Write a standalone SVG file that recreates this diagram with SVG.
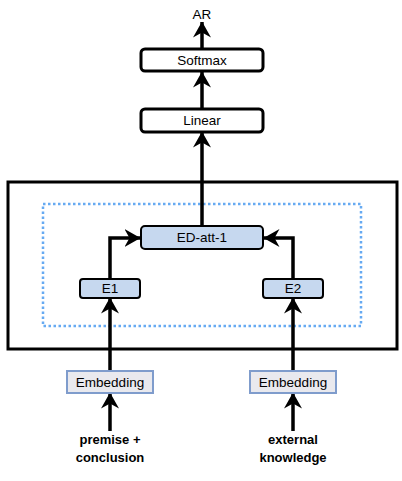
<svg xmlns="http://www.w3.org/2000/svg" width="402" height="481" viewBox="0 0 402 481">
<style>
.t{font-family:"Liberation Sans",Arial,sans-serif;font-size:13.5px;fill:#000;text-anchor:middle}
.b{font-weight:bold;font-size:13px}
.w{fill:#fff;stroke:#000;stroke-width:3}
.bl{fill:#c6d8ef;stroke:#000;stroke-width:2}
.em{fill:#e9e9ee;stroke:#7f9ccc;stroke-width:2}
.c{fill:none;stroke:#000;stroke-width:3.5}
</style>
<defs>
<marker id="a" viewBox="0 0 16 18" refX="15.5" refY="9" markerWidth="16" markerHeight="18" markerUnits="userSpaceOnUse" orient="auto">
<path d="M0,0 L16,9 L0,18 L5,9 Z" fill="#000"/>
</marker>
</defs>
<rect x="8" y="182" width="389" height="167" fill="none" stroke="#000" stroke-width="3"/>
<rect x="43" y="204" width="318" height="122" fill="none" stroke="#66aaf2" stroke-width="2.5" stroke-dasharray="2.5,2.5"/>
<g id="connectors">
<path class="c" d="M202,49 V22" marker-end="url(#a)"/>
<path class="c" d="M202,109 V72" marker-end="url(#a)"/>
<path class="c" d="M202,226 V132" marker-end="url(#a)"/>
<path class="c" d="M110,279 V238 H140" marker-end="url(#a)"/>
<path class="c" d="M293,279 V238 H264" marker-end="url(#a)"/>
<path class="c" d="M110,371 V298" marker-end="url(#a)"/>
<path class="c" d="M293,371 V298" marker-end="url(#a)"/>
<path class="c" d="M110,431 V393" marker-end="url(#a)"/>
<path class="c" d="M293,431 V393" marker-end="url(#a)"/>
</g>
<g id="ar"><text class="t" x="202" y="19">AR</text></g>
<g id="softmax"><rect class="w" x="141" y="49" width="122" height="22" rx="4"/><text class="t" x="202" y="65">Softmax</text></g>
<g id="linear"><rect class="w" x="141" y="109" width="122" height="23" rx="4"/><text class="t" x="202" y="125">Linear</text></g>
<g id="edatt"><rect class="bl" x="141" y="226" width="122" height="23" rx="4"/><text class="t" x="202" y="242">ED-att-1</text></g>
<g id="e1"><rect class="bl" x="80" y="279" width="60" height="19" rx="3"/><text class="t" x="110" y="293">E1</text></g>
<g id="e2"><rect class="bl" x="263" y="279" width="60" height="19" rx="3"/><text class="t" x="293" y="293">E2</text></g>
<g id="emb1"><rect class="em" x="67" y="371" width="86" height="22"/><text class="t" x="110" y="387">Embedding</text></g>
<g id="emb2"><rect class="em" x="250" y="371" width="86" height="22"/><text class="t" x="293" y="387">Embedding</text></g>
<g id="in1"><text class="t b" x="110" y="444">premise +</text><text class="t b" x="110" y="462">conclusion</text></g>
<g id="in2"><text class="t b" x="293" y="444">external</text><text class="t b" x="293" y="462">knowledge</text></g>
</svg>
